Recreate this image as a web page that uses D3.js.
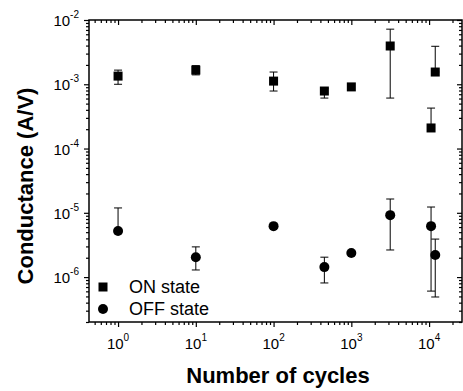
<!DOCTYPE html>
<html>
<head>
<meta charset="utf-8">
<script src="https://cdn.jsdelivr.net/npm/d3@7"></script>
<style>
  body { margin: 0; background: white; }
  svg { display: block; font-family: "Liberation Sans", Arial, sans-serif; }
</style>
</head>
<body>
<div id="chart"></div>
<script>
// Conductance vs number of cycles

var onCycles = [1, 10, 100, 450, 1000, 3162, 12000, 10600];
var onValues = [1.34e-3, 1.66e-3, 1.12e-3, 7.85e-4, 9.1e-4, 3.94e-3, 1.55e-3, 2.09e-4];
var onHigh   = [1.66e-3, 1.95e-3, 1.55e-3, 8.6e-4, 9.1e-4, 7.2e-3, 3.9e-3, 4.26e-4];
var onLow    = [1.0e-3, 1.4e-3, 7.85e-4, 6.1e-4, 9.1e-4, 6.1e-4, 1.55e-3, 2.09e-4];

var offCycles = [1, 10, 100, 450, 1000, 3162, 10600, 12000];
var offValues = [5.2e-6, 2.04e-6, 6.2e-6, 1.43e-6, 2.37e-6, 9.2e-6, 6.2e-6, 2.2e-6];
var offHigh   = [1.19e-5, 2.95e-6, 6.2e-6, 2.04e-6, 2.37e-6, 1.64e-5, 1.23e-5, 3.9e-6];
var offLow    = [5.2e-6, 1.29e-6, 6.2e-6, 8.1e-7, 2.37e-6, 2.64e-6, 6.05e-7, 4.9e-7];

var xTickExp = [0, 1, 2, 3, 4];
var yTickExp = [-2, -3, -4, -5, -6];

var svgWidth = 463;
var svgHeight = 391;
var margin = {left: 89, right: 1, top: 20, bottom: 69};

var svg = d3.select('#chart').append('svg')
    .attr('width', svgWidth)
    .attr('height', svgHeight);

var xScale = d3.scaleLog()
    .domain([0.423, 26500])
    .range([margin.left, svgWidth - margin.right]);

var yScale = d3.scaleLog()
    .domain([2.0e-7, 1e-2])
    .range([svgHeight - margin.bottom, margin.top]);

// minor ticks 2..9 per decade
function minorTicks(scale) {
    var d = scale.domain();
    var out = [];
    var lo = Math.floor(Math.log10(d[0])), hi = Math.ceil(Math.log10(d[1]));
    for (var e = lo; e <= hi; e++) {
        for (var m = 2; m <= 9; m++) {
            var v = m * Math.pow(10, e);
            if (v >= d[0] && v <= d[1]) out.push(v);
        }
    }
    return out;
}

var xMajor = xTickExp.map(e => Math.pow(10, e));
var yMajor = yTickExp.map(e => Math.pow(10, e));

var x0 = margin.left, x1 = svgWidth - margin.right;
var y0 = svgHeight - margin.bottom, y1 = margin.top;

// Axes: bottom and left with outward ticks, top and right inward
function axisGroup(axis, transform) {
    return svg.append('g')
        .attr('transform', transform)
        .call(axis)
        .call(g => g.select('.domain').remove())
        .call(g => g.selectAll('line').attr('stroke', 'black').attr('stroke-width', 1.2));
}

axisGroup(d3.axisBottom(xScale).tickValues(xMajor).tickSize(5).tickFormat(''), 'translate(0,' + y0 + ')');
axisGroup(d3.axisBottom(xScale).tickValues(minorTicks(xScale)).tickSize(3).tickFormat(''), 'translate(0,' + y0 + ')');
axisGroup(d3.axisBottom(xScale).tickValues(xMajor).tickSize(5).tickFormat(''), 'translate(0,' + y1 + ')');
axisGroup(d3.axisBottom(xScale).tickValues(minorTicks(xScale)).tickSize(3).tickFormat(''), 'translate(0,' + y1 + ')');

axisGroup(d3.axisLeft(yScale).tickValues(yMajor).tickSize(5).tickFormat(''), 'translate(' + x0 + ',0)');
axisGroup(d3.axisLeft(yScale).tickValues(minorTicks(yScale)).tickSize(3).tickFormat(''), 'translate(' + x0 + ',0)');
axisGroup(d3.axisLeft(yScale).tickValues(yMajor).tickSize(5).tickFormat(''), 'translate(' + x1 + ',0)');
axisGroup(d3.axisLeft(yScale).tickValues(minorTicks(yScale)).tickSize(3).tickFormat(''), 'translate(' + x1 + ',0)');

// frame
svg.append('rect')
    .attr('x', x0).attr('y', y1)
    .attr('width', x1 - x0).attr('height', y0 - y1)
    .attr('fill', 'none')
    .attr('stroke', 'black')
    .attr('stroke-width', 1.5);

// tick labels
var xLab = svg.append('g').selectAll('text')
    .data(xTickExp)
    .enter().append('text')
        .attr('x', d => xScale(Math.pow(10, d)))
        .attr('y', 349)
        .attr('text-anchor', 'middle')
        .style('font-size', '15px');
xLab.append('tspan').text('10');
xLab.append('tspan').attr('dy', -8).style('font-size', '10px').text(d => d);

var yLab = svg.append('g').selectAll('text')
    .data(yTickExp)
    .enter().append('text')
        .attr('x', 79)
        .attr('y', d => yScale(Math.pow(10, d)) + 6)
        .attr('text-anchor', 'end')
        .style('font-size', '15px');
yLab.append('tspan').text('10');
yLab.append('tspan').attr('dy', -8).style('font-size', '10px').text(d => d);

// axis titles
svg.append('text')
    .attr('transform', 'translate(33,' + ((y0 + y1) / 2 + 15) + ') rotate(-90)')
    .attr('text-anchor', 'middle')
    .style('font-size', '22px')
    .style('font-weight', 'bold')
    .text('Conductance (A/V)');

svg.append('text')
    .attr('x', 278)
    .attr('y', 383)
    .attr('text-anchor', 'middle')
    .style('font-size', '22px')
    .style('font-weight', 'bold')
    .text('Number of cycles');

// error bars
function errorBars(xs, lows, highs) {
    var g = svg.append('g').attr('stroke', 'black').attr('stroke-width', 1);
    xs.forEach(function(c, i) {
        var cx = xScale(c);
        if (highs[i] === lows[i]) return;
        g.append('line').attr('x1', cx).attr('x2', cx)
            .attr('y1', yScale(lows[i])).attr('y2', yScale(highs[i]));
        g.append('line').attr('x1', cx - 4).attr('x2', cx + 4)
            .attr('y1', yScale(highs[i])).attr('y2', yScale(highs[i]));
        g.append('line').attr('x1', cx - 4).attr('x2', cx + 4)
            .attr('y1', yScale(lows[i])).attr('y2', yScale(lows[i]));
    });
}

errorBars(onCycles, onLow, onHigh);
errorBars(offCycles, offLow, offHigh);

// ON state squares
svg.append('g').selectAll('rect')
    .data(onValues)
    .enter().append('rect')
        .attr('x', (d, i) => xScale(onCycles[i]) - 4.5)
        .attr('y', d => yScale(d) - 4.5)
        .attr('width', 9)
        .attr('height', 9)
        .attr('fill', 'black');

// OFF state circles
svg.append('g').selectAll('circle')
    .data(offValues)
    .enter().append('circle')
        .attr('cx', (d, i) => xScale(offCycles[i]))
        .attr('cy', d => yScale(d))
        .attr('r', 5)
        .attr('fill', 'black');

// legend
svg.append('rect')
    .attr('x', 98.5).attr('y', 282.5)
    .attr('width', 9).attr('height', 9)
    .attr('fill', 'black');
svg.append('text')
    .attr('x', 129).attr('y', 293)
    .style('font-size', '18px')
    .text('ON state');
svg.append('circle')
    .attr('cx', 103).attr('cy', 309)
    .attr('r', 5)
    .attr('fill', 'black');
svg.append('text')
    .attr('x', 129).attr('y', 315)
    .style('font-size', '18px')
    .text('OFF state');
</script>
</body>
</html>
